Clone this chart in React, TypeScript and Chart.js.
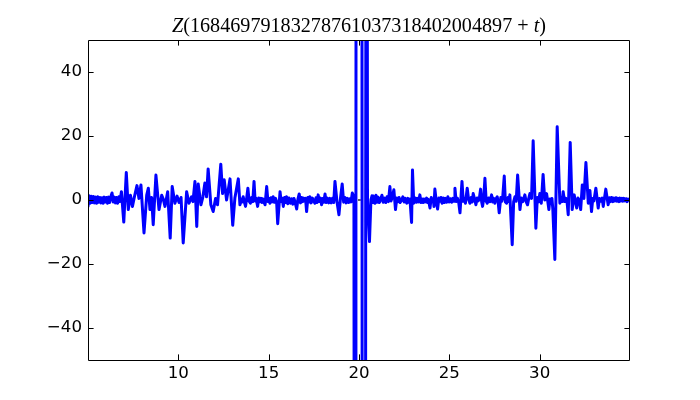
import React, { useEffect, useRef } from 'react';
import { Chart, registerables } from 'chart.js';

Chart.register(...registerables);

const titleParts = [
  { text: 'Z', italic: true },
  { text: '(16846979183278761037318402004897', italic: false },
  { text: ' + ', italic: false },
  { text: 't', italic: true },
  { text: ')', italic: false },
];

const xTicks = [10, 15, 20, 25, 30];
const yTicks = [-40, -20, 0, 20, 40];

const tValues = [
  5.00, 5.06, 5.12, 5.18, 5.24, 5.30, 5.36, 5.42, 5.48, 5.54,
  5.60, 5.66, 5.72, 5.78, 5.84, 5.90, 5.96, 6.02, 6.08, 6.14,
  6.20, 6.27, 6.33, 6.40, 6.46, 6.52, 6.58, 6.64, 6.71, 6.77,
  6.85, 6.98, 7.12, 7.23, 7.35, 7.46, 7.57, 7.71, 7.82, 7.93,
  8.10, 8.25, 8.34, 8.43, 8.52, 8.61, 8.76, 8.93, 9.08, 9.17,
  9.26, 9.41, 9.55, 9.66, 9.81, 9.93, 10.04, 10.15, 10.27, 10.46,
  10.59, 10.73, 10.81, 10.92, 11.02, 11.10, 11.25, 11.36, 11.47, 11.56,
  11.65, 11.80, 11.93, 12.06, 12.17, 12.35, 12.45, 12.54, 12.67, 12.86,
  13.01, 13.13, 13.32, 13.41, 13.50, 13.55, 13.59, 13.65, 13.72, 13.78,
  13.85, 13.92, 13.99, 14.06, 14.12, 14.19, 14.25, 14.30, 14.39, 14.45,
  14.52, 14.58, 14.63, 14.68, 14.74, 14.80, 14.89, 14.96, 15.01, 15.07,
  15.13, 15.19, 15.25, 15.31, 15.38, 15.44, 15.50, 15.63, 15.69, 15.75,
  15.81, 15.88, 15.94, 15.99, 16.06, 16.12, 16.20, 16.27, 16.34, 16.40,
  16.47, 16.55, 16.62, 16.69, 16.76, 16.82, 16.88, 16.93, 16.98, 17.04,
  17.10, 17.17, 17.23, 17.28, 17.35, 17.42, 17.49, 17.56, 17.62, 17.68,
  17.74, 17.80, 17.87, 17.93, 17.99, 18.05, 18.12, 18.18, 18.25, 18.32,
  18.39, 18.46, 18.53, 18.60, 18.67, 18.78, 18.89, 18.98, 19.07, 19.15,
  19.22, 19.29, 19.36, 19.43, 19.50, 19.56, 19.63, 19.72, 19.78, 19.83,
  20.00, 20.17, 20.27, 20.37, 20.42, 20.47, 20.58, 20.66, 20.72, 20.77,
  20.83, 20.88, 20.94, 21.00, 21.06, 21.13, 21.20, 21.27, 21.34, 21.41,
  21.48, 21.55, 21.63, 21.71, 21.77, 21.82, 21.93, 22.02, 22.09, 22.16,
  22.22, 22.27, 22.35, 22.43, 22.50, 22.57, 22.64, 22.71, 22.77, 22.82,
  22.91, 22.96, 23.03, 23.10, 23.17, 23.23, 23.30, 23.37, 23.43, 23.48,
  23.54, 23.59, 23.66, 23.74, 23.80, 23.84, 23.93, 24.00, 24.07, 24.11,
  24.15, 24.20, 24.28, 24.35, 24.42, 24.48, 24.54, 24.60, 24.66, 24.72,
  24.78, 24.85, 24.92, 24.99, 25.06, 25.13, 25.20, 25.26, 25.31, 25.38,
  25.44, 25.52, 25.59, 25.70, 25.77, 25.83, 25.89, 25.99, 26.06, 26.14,
  26.21, 26.27, 26.32, 26.40, 26.47, 26.54, 26.60, 26.66, 26.73, 26.79,
  26.84, 26.90, 26.97, 27.04, 27.10, 27.17, 27.25, 27.34, 27.40, 27.46,
  27.52, 27.58, 27.65, 27.70, 27.76, 27.85, 27.90, 27.95, 28.04, 28.10,
  28.17, 28.25, 28.30, 28.35, 28.48, 28.56, 28.63, 28.70, 28.78, 28.91,
  28.98, 29.06, 29.12, 29.18, 29.25, 29.33, 29.40, 29.46, 29.55, 29.64,
  29.79, 29.87, 29.94, 30.01, 30.09, 30.19, 30.28, 30.38, 30.45, 30.51,
  30.57, 30.62, 30.68, 30.73, 30.84, 30.97, 31.12, 31.20, 31.25, 31.30,
  31.38, 31.45, 31.52, 31.58, 31.69, 31.80, 31.91, 32.05, 32.12, 32.19,
  32.27, 32.36, 32.45, 32.56, 32.69, 32.78, 32.87, 32.94, 33.00, 33.11,
  33.24, 33.31, 33.39, 33.46, 33.52, 33.66, 33.79, 33.86, 33.92, 33.98,
  34.05, 34.11, 34.16, 34.22, 34.28, 34.33, 34.39, 34.44, 34.50, 34.56,
  34.60, 34.66, 34.72, 34.78, 34.84, 34.90, 34.99,
];

const zValues = [
  -2.0, 1.3, -1.0, 1.2, -0.8, 1.1, -0.9, 0.9, -1.0, 1.0,
  -0.7, 0.8, -0.9, 0.7, -1.0, 0.9, -0.6, 0.8, -1.0, 0.9,
  -0.8, 1.2, 2.2, -0.6, 0.9, -0.9, 0.8, -1.0, 1.0, -0.5,
  2.6, -6.9, 8.6, -3.0, 1.5, -2.0, 1.0, 4.5, 0.5, 4.7,
  -10.3, 1.5, 3.7, -3.0, 0.8, -7.7, 7.8, -3.0, 1.5, 0.2,
  -2.0, 2.6, -11.9, 4.2, -1.0, 1.2, -0.8, 0.8, -13.4, 2.6,
  -1.0, 1.0, -0.5, 5.8, -8.3, 5.0, -1.5, 1.0, 5.3, 1.0,
  9.7, -1.5, -3.6, 0.5, -1.5, 11.2, 2.0, 6.3, 0.0, 6.6,
  -7.9, 0.6, 6.6, -1.5, 0.3, -0.6, 1.0, -0.5, -2.0, 0.4,
  3.7, -0.4, -1.0, 0.8, -0.5, 5.8, -0.3, 0.6, -2.0, 0.6,
  -0.5, 0.5, -0.8, 0.3, -0.6, -1.5, 4.2, -0.5, 0.5, -1.0,
  0.7, -0.6, 1.0, -0.7, 0.5, -0.5, -7.4, 2.6, -0.5, 0.6,
  -2.0, 0.8, -0.8, 1.0, -1.2, 0.6, -1.0, 0.4, -1.3, 0.5,
  -0.8, -2.8, 0.3, 1.9, -0.9, 0.8, -0.5, 0.6, -0.3, 0.5,
  -3.6, 0.8, -0.6, 1.0, -0.9, 0.6, -0.3, -1.0, 0.7, -0.8,
  1.6, -0.5, 0.6, -1.5, 0.5, -0.7, 1.9, -0.8, 0.6, -0.9,
  0.5, -0.9, 0.5, -0.8, 5.8, -0.5, -4.6, 0.8, 5.0, -0.7,
  0.8, -0.9, 0.5, -0.8, 0.4, -0.6, 2.2, 1.0, -400, 0,
  2000, 0, -1500, 0, 300, 0, -13.0, 0.0, 1.3, -0.8,
  1.0, -1.0, 1.5, -0.7, 0.9, -0.8, 0.2, 1.5, -0.7, 0.6,
  -0.8, 1.0, -0.5, 4.2, -0.3, 0.5, 3.2, -3.0, 0.6, -0.5,
  0.8, -0.8, -0.2, 1.0, -0.6, 0.5, -1.0, 0.5, -0.8, 0.3,
  -7.0, 9.4, -1.0, 0.6, -0.7, 0.5, -0.6, 1.6, -0.8, 0.3,
  -0.8, 0.3, -0.6, 0.6, -0.8, 0.2, -2.5, 0.8, -0.4, 0.3,
  -2.0, 3.4, -0.5, -2.8, 0.6, -0.4, 0.8, -1.0, 0.6, -0.8,
  0.5, -0.7, 1.0, -0.6, 0.4, -0.7, 0.5, -0.4, 3.7, -0.5,
  0.6, -0.8, -4.0, 5.8, -0.4, 0.5, -1.0, 3.7, 0.4, -1.0,
  0.8, -0.6, 2.0, 0.3, -1.5, 0.6, -0.3, 0.4, 3.4, -0.6,
  -2.0, 0.3, 6.8, -0.4, -1.0, 0.6, -0.5, 1.6, -0.6, 0.5,
  -1.0, 0.3, 1.0, -0.5, -4.0, 0.8, -0.4, 0.5, 7.5, -0.6,
  -1.0, 0.8, -0.5, 1.6, -14.0, -0.5, 1.0, -0.4, 7.8, -3.0,
  0.6, -0.5, 0.4, 1.6, -0.5, -1.5, 0.6, 2.0, 0.5, 18.5,
  -8.8, 0.8, -0.6, 2.0, -1.0, 8.0, 0.0, 2.0, -0.5, -3.0,
  0.3, -1.0, 0.5, -3.0, -18.6, 22.9, -1.0, 0.8, -0.5, 2.6,
  -0.5, 0.5, -0.8, -4.6, 18.0, -3.0, 1.6, -2.5, 0.6, 0.0,
  -3.0, 4.7, 0.5, 11.7, -1.0, 3.0, -3.6, 0.5, -0.3, 3.7,
  -2.5, 0.5, -0.4, 0.6, -2.0, 3.4, -1.5, 0.7, -0.5, 0.8,
  -0.5, 0.6, -0.3, 0.7, -0.4, 0.5, -0.5, 0.6, -0.3, 0.5,
  -0.4, 0.5, -0.3, 0.4, -0.5, 0.3, -0.2,
];

const markT = [19.94, 20.1];
const markZ = [0, 0];

const minus = (v: number) => (v < 0 ? '\u2212' + String(-v) : String(v));

const framePlugin = {
  id: 'mplFrame',
  afterDraw(chart: any) {
    const { ctx, chartArea } = chart;
    const { left, right, top, bottom } = chartArea;
    const xs = chart.scales.x;
    const ys = chart.scales.y;
    ctx.save();
    ctx.strokeStyle = '#000000';
    ctx.lineWidth = 1;
    ctx.beginPath();
    ctx.rect(Math.round(left) + 0.5, Math.round(top) + 0.5, Math.round(right - left) - 1, Math.round(bottom - top));
    ctx.stroke();
    const tl = 5.6;
    ctx.beginPath();
    xTicks.forEach((v) => {
      const px = Math.round(xs.getPixelForValue(v)) + 0.5;
      ctx.moveTo(px, bottom);
      ctx.lineTo(px, bottom - tl);
      ctx.moveTo(px, top);
      ctx.lineTo(px, top + tl);
    });
    yTicks.forEach((v) => {
      const py = Math.round(ys.getPixelForValue(v)) + 0.5;
      ctx.moveTo(left, py);
      ctx.lineTo(left + tl, py);
      ctx.moveTo(right, py);
      ctx.lineTo(right - tl, py);
    });
    ctx.stroke();

    // title
    const base = 19.4;
    const fam = '"Liberation Serif", "DejaVu Serif", serif';
    const fontFor = (p: any, s: number) => `${p.italic ? 'italic ' : ''}${s}px ${fam}`;
    let w = 0;
    titleParts.forEach((p) => {
      ctx.font = fontFor(p, base);
      w += ctx.measureText(p.text).width;
    });
    const size = base * (374 / w);
    let total = 0;
    titleParts.forEach((p) => {
      ctx.font = fontFor(p, size);
      total += ctx.measureText(p.text).width;
    });
    let x = (left + right) / 2 - total / 2;
    ctx.fillStyle = '#000000';
    ctx.textBaseline = 'alphabetic';
    ctx.textAlign = 'left';
    titleParts.forEach((p) => {
      ctx.font = fontFor(p, size);
      ctx.fillText(p.text, x, 32);
      x += ctx.measureText(p.text).width;
    });
    ctx.restore();
  },
};

export default function App() {
  const ref = useRef<HTMLCanvasElement | null>(null);

  useEffect(() => {
    if (!ref.current) return;
    const lineData = tValues.map((t, i) => ({ x: t, y: zValues[i] }));
    const markData = markT.map((t, i) => ({ x: t, y: markZ[i] }));
    const tickFont = { family: '"DejaVu Sans", sans-serif', size: 16.67 };
    const chart = new Chart(ref.current, {
      type: 'line',
      data: {
        datasets: [
          {
            data: lineData,
            borderColor: '#0000ff',
            borderWidth: 3,
            pointRadius: 0,
            tension: 0,
            borderJoinStyle: 'round',
            borderCapStyle: 'round',
            fill: false,
          },
          {
            data: markData,
            borderColor: '#000000',
            borderWidth: 1.2,
            pointRadius: 0,
            fill: false,
          },
        ],
      },
      options: {
        animation: false,
        responsive: false,
        devicePixelRatio: 1,
        layout: { padding: { left: 0, right: 70, top: 40, bottom: 0 } },
        plugins: { legend: { display: false }, tooltip: { enabled: false }, title: { display: false } },
        scales: {
          x: {
            type: 'linear',
            min: 5,
            max: 35,
            afterFit: (s: any) => { s.height = 40; },
            afterBuildTicks: (s: any) => { s.ticks = xTicks.map((v) => ({ value: v })); },
            ticks: {
              color: '#000000',
              font: tickFont,
              padding: 4,
              maxRotation: 0,
              autoSkip: false,
              callback: (v: any) => minus(Number(v)),
            },
            grid: { display: false, drawTicks: false },
            border: { display: false },
          },
          y: {
            type: 'linear',
            min: -50,
            max: 50,
            afterFit: (s: any) => { s.width = 88; },
            afterBuildTicks: (s: any) => { s.ticks = yTicks.map((v) => ({ value: v })); },
            ticks: {
              color: '#000000',
              font: tickFont,
              padding: 6,
              autoSkip: false,
              callback: (v: any) => minus(Number(v)),
            },
            grid: { display: false, drawTicks: false },
            border: { display: false },
          },
        },
      },
      plugins: [framePlugin],
    } as any);
    return () => chart.destroy();
  }, []);

  return (
    <div style={{ position: 'fixed', left: 0, top: 0, width: 700, height: 400, background: '#ffffff' }}>
      <canvas ref={ref} width={700} height={400} style={{ width: 700, height: 400, display: 'block' }} />
    </div>
  );
}
